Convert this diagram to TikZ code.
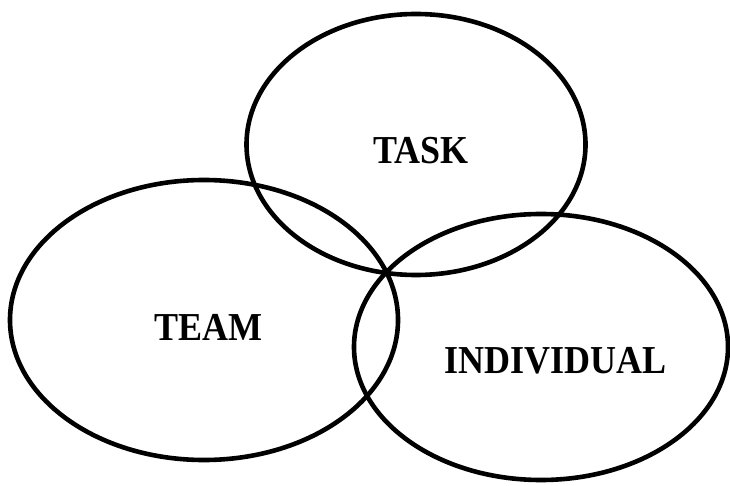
\documentclass[tikz,border=0pt]{standalone}
\usepackage{fontspec}
\setmainfont{Liberation Serif}
\begin{document}
\begin{tikzpicture}[x=1pt,y=1pt,
  ring/.style={line width=4.6pt},
  lbl/.style={font=\fontsize{36}{40}\selectfont\bfseries, inner sep=0pt}]
\useasboundingbox[fill=white] (0,0) rectangle (730,485);
\draw[ring] (416,340.5) ellipse (169.5 and 130.5);
\draw[ring] (204,165) ellipse (194 and 140);
\draw[ring] (541,138) ellipse (187 and 133);
\node[lbl] (task) at (421,334.5) {\scalebox{1}[1.1]{TASK}};
\node[lbl] (team) at (208,158) {\scalebox{1}[1.1]{TEAM}};
\node[lbl] (indiv) at (555.5,124) {\scalebox{1}[1.1]{INDIVIDUAL}};
\end{tikzpicture}
\end{document}
